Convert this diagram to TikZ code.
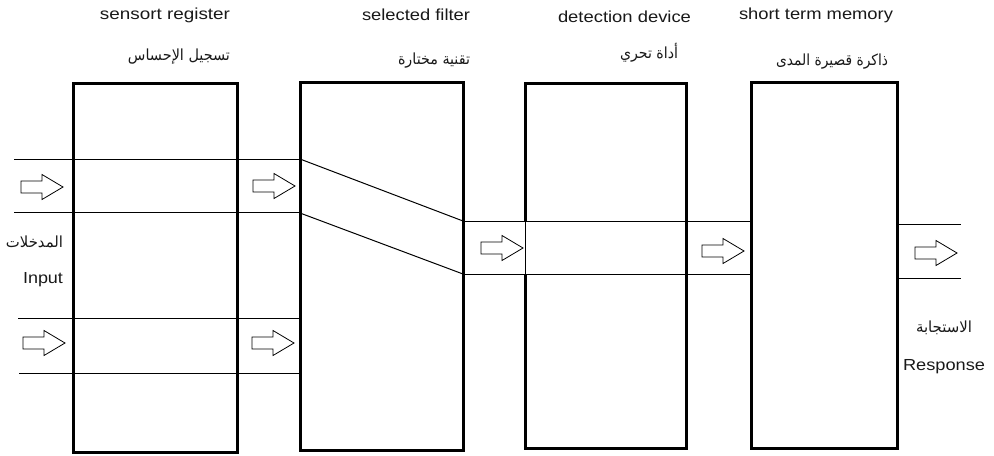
\documentclass[tikz,border=0pt]{standalone}
\usepackage{graphicx}
\usepackage{fontspec}
\setmainfont{Liberation Sans}
\newfontfamily\arabicfont[Script=Arabic]{DejaVu Sans}
\TeXXeTstate=1
\newcommand\fitw[2]{\resizebox{#1}{\height}{#2}}
\newcommand\blockarrow[2]{%
  \draw[arrowline] (#1,#2-6) -- (#1+21,#2-6) -- (#1+21,#2-12.5) -- (#1+42,#2)
    -- (#1+21,#2+12.5) -- (#1+21,#2+6) -- (#1,#2+6) -- cycle;}
\tikzset{
  boxline/.style={line width=2.25pt, line join=miter, black},
  thinline/.style={line width=0.75pt, black},
  arrowline/.style={line width=0.6pt, black, line join=miter},
  lbl/.style={inner sep=0pt, anchor=center, text=black!90, font=\fontsize{12pt}{14pt}\selectfont},
  albl/.style={inner sep=0pt, anchor=center, text=black!90, font=\fontsize{11.5pt}{13pt}\selectfont},
}
\begin{document}
\begin{tikzpicture}[x=0.75pt,y=-0.75pt]
\useasboundingbox (0,0) rectangle (994,455);
% thin band lines
\draw[thinline] (14,159) -- (300,159);
\draw[thinline] (14,212) -- (300,212);
\draw[thinline] (18,318) -- (300,318);
\draw[thinline] (19,373) -- (300,373);
\draw[thinline] (300,159) -- (463,221);
\draw[thinline] (300,213) -- (463,274);
\draw[thinline] (463,221) -- (751,221);
\draw[thinline] (463,274) -- (751,274);
\draw[thinline] (896,224) -- (961,224);
\draw[thinline] (896,278) -- (961,278);
% boxes
\draw[boxline] (73,83) rectangle (237,452);
\draw[boxline] (300,82) rectangle (463,450);
\draw[boxline] (525,221) -- (525,83) -- (686,83) -- (686,448) -- (525,448) -- (525,274);
\draw[thinline] (525,221) -- (525,274);
\draw[boxline] (751,82) rectangle (897,448);
% block arrows
\blockarrow{21}{187}
\blockarrow{253}{186}
\blockarrow{23}{343}
\blockarrow{252}{343}
\blockarrow{481}{248}
\blockarrow{702}{251}
\blockarrow{915}{253}
% labels
\node[lbl] (t1) at (165,15) {\fitw{97.5pt}{sensort register}};
\node[albl] (a1) at (179,57) {\fitw{76.5pt}{\arabicfont\beginR تسجيل الإحساس\endR}};
\node[lbl] (t2) at (416,15) {\fitw{81pt}{selected filter}};
\node[albl] (a2) at (434,61) {\fitw{54pt}{\arabicfont\beginR تقنية مختارة\endR}};
\node[lbl] (t3) at (624.5,17) {\fitw{99.75pt}{detection device}};
\node[albl] (a3) at (649,53) {\fitw{43.5pt}{\arabicfont\beginR أداة تحري\endR}};
\node[lbl] (t4) at (816,15) {\fitw{115.5pt}{short term memory}};
\node[albl] (a4) at (832,62) {\fitw{84pt}{\arabicfont\beginR ذاكرة قصيرة المدى\endR}};
\node[albl] (a5) at (34.5,242) {\fitw{42.75pt}{\arabicfont\beginR المدخلات\endR}};
\node[lbl] (t5) at (43,280) {\fitw{30pt}{Input}};
\node[albl] (a6) at (944,328) {\fitw{42pt}{\arabicfont\beginR الاستجابة\endR}};
\node[lbl] (t6) at (944,367) {\fitw{61.5pt}{Response}};
\end{tikzpicture}
\end{document}
